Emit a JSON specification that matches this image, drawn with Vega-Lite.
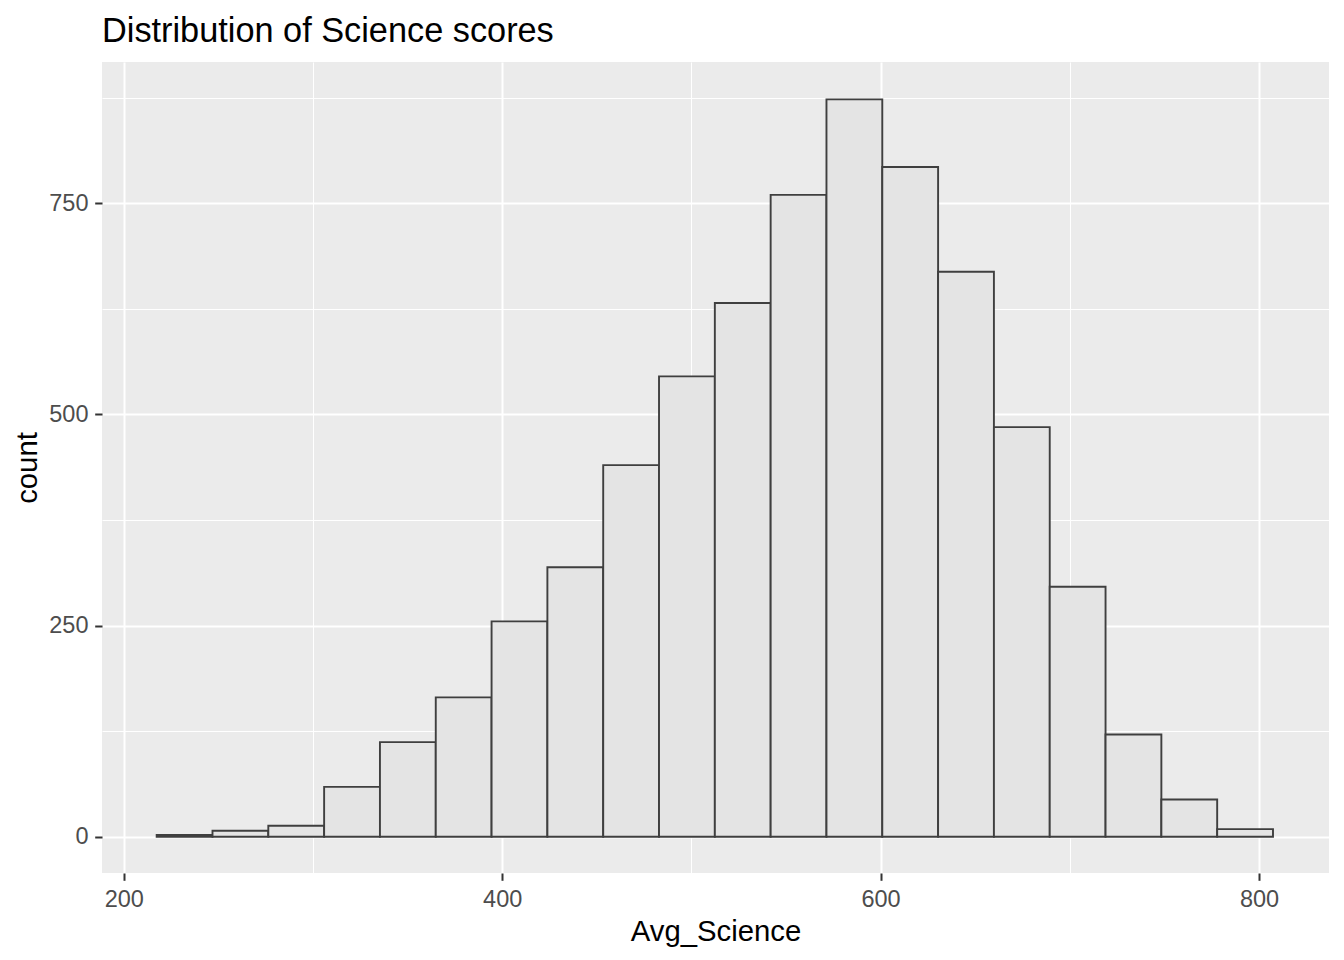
{
  "$schema": "https://vega.github.io/schema/vega-lite/v6.json",
  "width": 1227,
  "height": 811,
  "autosize": {"type": "none"},
  "padding": {"left": 102, "top": 62, "right": 15, "bottom": 87},
  "background": "white",
  "view": {"fill": "#EBEBEB", "stroke": null},
  "title": {
    "text": "Distribution of Science scores",
    "anchor": "start",
    "frame": "group",
    "font": "Liberation Sans",
    "fontSize": 34.3,
    "fontWeight": "normal",
    "color": "black",
    "baseline": "alphabetic",
    "offset": 21,
    "dy": 35
  },
  "data": {
    "values": [
      {"bin_start": 217.4, "bin_end": 246.9, "count": 2},
      {"bin_start": 246.9, "bin_end": 276.4, "count": 7},
      {"bin_start": 276.4, "bin_end": 305.9, "count": 13},
      {"bin_start": 305.9, "bin_end": 335.4, "count": 59},
      {"bin_start": 335.4, "bin_end": 364.9, "count": 112},
      {"bin_start": 364.9, "bin_end": 394.4, "count": 165},
      {"bin_start": 394.4, "bin_end": 423.9, "count": 255},
      {"bin_start": 423.9, "bin_end": 453.4, "count": 319},
      {"bin_start": 453.4, "bin_end": 482.9, "count": 440},
      {"bin_start": 482.9, "bin_end": 512.4, "count": 545},
      {"bin_start": 512.4, "bin_end": 541.9, "count": 632},
      {"bin_start": 541.9, "bin_end": 571.4, "count": 760},
      {"bin_start": 571.4, "bin_end": 600.9, "count": 873},
      {"bin_start": 600.9, "bin_end": 630.4, "count": 793},
      {"bin_start": 630.4, "bin_end": 659.9, "count": 669},
      {"bin_start": 659.9, "bin_end": 689.4, "count": 485},
      {"bin_start": 689.4, "bin_end": 718.9, "count": 296},
      {"bin_start": 718.9, "bin_end": 748.4, "count": 121},
      {"bin_start": 748.4, "bin_end": 777.9, "count": 44},
      {"bin_start": 777.9, "bin_end": 807.4, "count": 9}
    ]
  },
  "resolve": {"axis": {"x": "independent", "y": "independent"}},
  "layer": [
    {
      "mark": {"type": "bar", "opacity": 0, "strokeOpacity": 0},
      "encoding": {
        "x": {
          "field": "bin_start", "type": "quantitative",
          "scale": {"domain": [188.5, 837], "nice": false, "zero": false},
          "axis": {
            "orient": "bottom", "values": [300, 500, 700], "grid": true, "gridColor": "white", "gridWidth": 1,
            "labels": false, "ticks": false, "domain": false, "title": null
          }
        },
        "x2": {"field": "bin_end"},
        "y": {
          "field": "count", "type": "quantitative",
          "scale": {"domain": [-43, 917.3], "nice": false, "zero": false},
          "axis": {
            "orient": "left", "values": [125, 375, 625, 875], "grid": true, "gridColor": "white", "gridWidth": 1,
            "labels": false, "ticks": false, "domain": false, "title": null
          }
        },
        "y2": {"datum": 0}
      }
    },
    {
      "mark": {"type": "bar", "fill": "#E4E4E4", "stroke": "#3F3F3F", "strokeWidth": 1.9},
      "encoding": {
        "x": {
          "field": "bin_start", "type": "quantitative",
          "scale": {"domain": [188.5, 837], "nice": false, "zero": false},
          "axis": {
            "orient": "bottom", "values": [200, 400, 600, 800], "grid": true, "gridColor": "white", "gridWidth": 2,
            "domain": false, "ticks": true, "tickColor": "#333333", "tickWidth": 2, "tickSize": 7.3,
            "labelColor": "#4D4D4D", "labelFont": "Liberation Sans", "labelFontSize": 23.5, "labelPadding": 7,
            "title": "Avg_Science", "titleFont": "Liberation Sans", "titleFontSize": 29.3, "titleFontWeight": "normal",
            "titleColor": "black", "titleBaseline": "alphabetic", "titleY": 67
          }
        },
        "x2": {"field": "bin_end"},
        "y": {
          "field": "count", "type": "quantitative",
          "scale": {"domain": [-43, 917.3], "nice": false, "zero": false},
          "axis": {
            "orient": "left", "values": [0, 250, 500, 750], "grid": true, "gridColor": "white", "gridWidth": 2,
            "domain": false, "ticks": true, "tickColor": "#333333", "tickWidth": 2, "tickSize": 7.3,
            "labelColor": "#4D4D4D", "labelFont": "Liberation Sans", "labelFontSize": 23.5, "labelPadding": 6.7,
            "title": "count", "titleFont": "Liberation Sans", "titleFontSize": 29.3, "titleFontWeight": "normal",
            "titleColor": "black", "titleBaseline": "alphabetic", "titleX": -65.3
          }
        },
        "y2": {"datum": 0}
      }
    }
  ]
}
